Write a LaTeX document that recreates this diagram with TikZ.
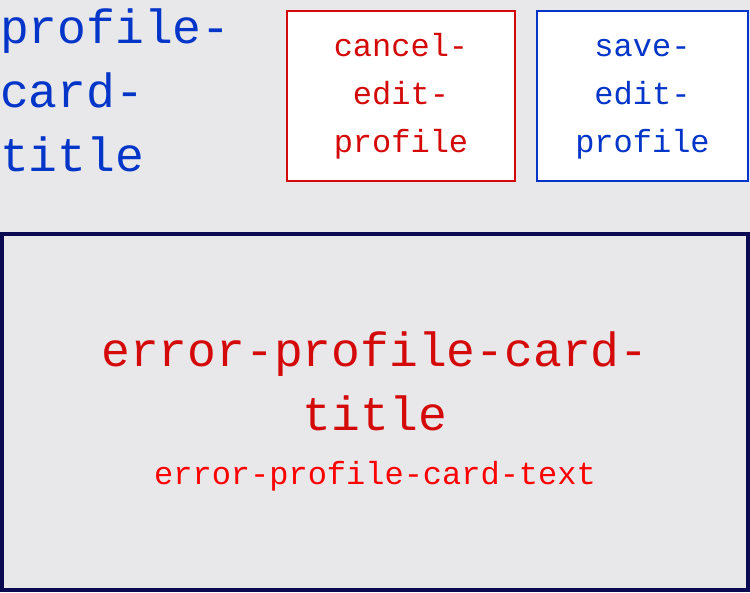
\documentclass[tikz,border=0pt]{standalone}
\usepackage{fontspec}
\setmonofont{Liberation Mono}
\definecolor{pageback}{HTML}{E8E8EB}
\definecolor{titleblue}{HTML}{0335C8}
\definecolor{cancelred}{HTML}{D40A0A}
\definecolor{errorred}{HTML}{FF0000}
\definecolor{cardnavy}{HTML}{0B0950}
\begin{document}
\begin{tikzpicture}[x=1pt,y=-1pt,
    bigtext/.style={font=\ttfamily\fontsize{48}{64}\selectfont,inner sep=0pt},
    smalltext/.style={font=\ttfamily\fontsize{32}{48}\selectfont,inner sep=0pt},
    button/.style={smalltext,draw,line width=2pt,fill=white,align=center,text width=#1,minimum width=#1,minimum height=170pt,execute at begin node={\vphantom{l}}}]
	\fill[pageback] (0,0) rectangle (750,592);
	\node[bigtext,text=titleblue,anchor=base west,align=left,text width=260pt] (cardtitle) at (0,43) {profile-\\card-\\title};
	\node[button=228pt,draw=cancelred,text=cancelred] (cancelbtn) at (401,96) {cancel-\\edit-\\profile};
	\node[button=211pt,draw=titleblue,text=titleblue] (savebtn) at (642.5,96) {save-\\edit-\\profile};
	\node[draw=cardnavy,line width=4pt,minimum width=746pt,minimum height=356pt,inner sep=0pt] (errorcard) at (375,412) {};
	\node[bigtext,text=cancelred,anchor=base,align=center,text width=700pt] (errortitle) at (375,366) {error-profile-card-\\title};
	\node[smalltext,text=errorred,anchor=base] (errortext) at (375,484) {error-profile-card-text};
\end{tikzpicture}
\end{document}
